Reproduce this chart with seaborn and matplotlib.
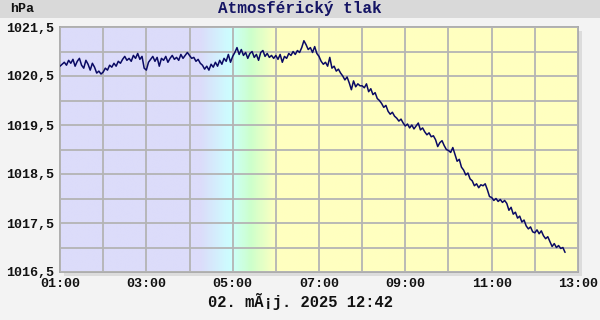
import numpy as np
import pandas as pd
import matplotlib
matplotlib.use("Agg")
import matplotlib.pyplot as plt
from matplotlib.colors import LinearSegmentedColormap
from matplotlib.patches import Rectangle
import seaborn as sns

# pressure readings every 3 minutes, 01:00 .. 12:42 (hPa)
pressure = [
    # 01:00
    1020.70, 1020.74, 1020.78, 1020.72, 1020.82, 1020.76, 1020.84, 1020.70, 1020.80, 1020.86,
    1020.72, 1020.66, 1020.82, 1020.74, 1020.62, 1020.76, 1020.68, 1020.56, 1020.60, 1020.54,
    # 02:00
    1020.58, 1020.66, 1020.62, 1020.72, 1020.68, 1020.76, 1020.70, 1020.80, 1020.76, 1020.84,
    1020.90, 1020.82, 1020.86, 1020.80, 1020.92, 1020.86, 1020.96, 1020.84, 1020.90, 1020.66,
    # 03:00
    1020.62, 1020.78, 1020.84, 1020.90, 1020.80, 1020.88, 1020.70, 1020.86, 1020.82, 1020.90,
    1020.78, 1020.86, 1020.92, 1020.84, 1020.88, 1020.82, 1020.94, 1020.86, 1020.92, 1020.98,
    # 04:00
    1020.92, 1020.86, 1020.88, 1020.80, 1020.84, 1020.76, 1020.72, 1020.64, 1020.70, 1020.62,
    1020.74, 1020.68, 1020.78, 1020.70, 1020.82, 1020.74, 1020.86, 1020.80, 1020.94, 1020.78,
    # 05:00
    1020.90, 1020.98, 1021.08, 1020.94, 1021.04, 1020.92, 1020.98, 1020.86, 1020.96, 1021.00,
    1020.88, 1020.94, 1020.82, 1020.98, 1021.02, 1020.90, 1020.96, 1020.88, 1020.92, 1020.86,
    # 06:00
    1020.92, 1020.84, 1020.94, 1020.78, 1020.90, 1020.86, 1020.96, 1020.92, 1021.00, 1020.94,
    1021.02, 1020.98, 1021.08, 1021.22, 1021.14, 1021.04, 1021.08, 1020.98, 1021.10, 1020.96,
    # 07:00
    1020.90, 1020.80, 1020.74, 1020.78, 1020.70, 1020.88, 1020.66, 1020.70, 1020.60, 1020.64,
    1020.56, 1020.50, 1020.42, 1020.48, 1020.36, 1020.22, 1020.40, 1020.28, 1020.34, 1020.30,
    # 08:00
    1020.30, 1020.26, 1020.34, 1020.18, 1020.24, 1020.12, 1020.16, 1020.04, 1020.00, 1019.94,
    1019.86, 1019.90, 1019.78, 1019.72, 1019.76, 1019.68, 1019.64, 1019.58, 1019.62, 1019.54,
    # 09:00
    1019.48, 1019.52, 1019.44, 1019.50, 1019.42, 1019.48, 1019.54, 1019.40, 1019.44, 1019.36,
    1019.30, 1019.34, 1019.26, 1019.28, 1019.20, 1019.06, 1019.14, 1019.18, 1019.08, 1019.00,
    # 10:00
    1018.98, 1018.94, 1019.04, 1018.90, 1018.76, 1018.80, 1018.64, 1018.58, 1018.48, 1018.52,
    1018.40, 1018.36, 1018.26, 1018.30, 1018.22, 1018.28, 1018.26, 1018.30, 1018.18, 1018.04,
    # 11:00
    1018.02, 1017.96, 1018.00, 1017.94, 1017.98, 1017.92, 1017.96, 1017.90, 1017.76, 1017.82,
    1017.68, 1017.72, 1017.60, 1017.64, 1017.52, 1017.56, 1017.44, 1017.38, 1017.42, 1017.32,
    # 12:00
    1017.30, 1017.36, 1017.28, 1017.34, 1017.24, 1017.18, 1017.22, 1017.12, 1017.02, 1017.08,
    1017.00, 1017.04, 1016.98, 1017.00, 1016.90,
]
start = "2025-05-02 01:00"
step = "3min"

y_labeled = [1016.5, 1017.5, 1018.5, 1019.5, 1020.5, 1021.5]
y_labels = ["1016,5", "1017,5", "1018,5", "1019,5", "1020,5", "1021,5"]
y_minor = [1017.0, 1018.0, 1019.0, 1020.0, 1021.0]
x_hours = [1, 3, 5, 7, 9, 11, 13]
x_labels = ["01:00", "03:00", "05:00", "07:00", "09:00", "11:00", "13:00"]
x_minor = [2, 4, 6, 8, 10, 12]

title = "Atmosférický tlak"
unit = "hPa"
footer = "02. mÃ¡j. 2025 12:42"

sns.set_style("white")
plt.rcParams['font.family'] = ['Liberation Mono', 'DejaVu Sans Mono']

times = pd.date_range(start, periods=len(pressure), freq=step)
df = pd.DataFrame({"hod": times.hour + times.minute / 60, "tlak": pressure})

W, H = 600, 320
fig = plt.figure(figsize=(6, 3.2), dpi=100, facecolor="#f3f3f3")
# title band
fig.patches.append(Rectangle((0, 1 - 18 / H), 1, 18 / H, transform=fig.transFigure,
                             facecolor="#d9d9d9", edgecolor="none", zorder=-2))
# plot shadow
fig.patches.append(Rectangle((64 / W, 44 / H), 518 / W, 245 / H, transform=fig.transFigure,
                             facecolor="#dcdcdc", edgecolor="none", zorder=-2))

ax = fig.add_axes([60 / W, 48 / H, 518 / W, 245 / H])

# day/night background
stops = [(0.0, "#dcdcfa"), ((4.25 - 1) / 12, "#dcdcfa"), ((4.95 - 1) / 12, "#ccffff"),
         ((5.4 - 1) / 12, "#ccffcc"), ((6.0 - 1) / 12, "#ffffc0"), (1.0, "#ffffc0")]
cmap = LinearSegmentedColormap.from_list("den", stops)
ax.imshow(np.linspace(0, 1, 800)[np.newaxis, :], extent=[1, 13, 1016.5, 1021.5],
          aspect="auto", cmap=cmap, zorder=0, interpolation="bilinear")

sns.lineplot(data=df, x="hod", y="tlak", ax=ax, color="#0a0a64", linewidth=1.1, zorder=3)

ax.set_xlim(1, 13)
ax.set_ylim(1016.5, 1021.5)
ax.set_xticks(x_hours)
ax.set_xticklabels(x_labels)
ax.set_xticks(x_minor, minor=True)
ax.set_yticks(y_labeled)
ax.set_yticklabels(y_labels)
ax.set_yticks(y_minor, minor=True)
ax.grid(True, which="both", color="#b4b4b4", linewidth=1.3, zorder=1)
ax.set_axisbelow(False)
for ln in ax.get_xgridlines() + ax.get_ygridlines():
    ln.set_zorder(1)
ax.tick_params(which="both", length=0, labelsize=9.6, pad=4)
for lab in ax.get_xticklabels() + ax.get_yticklabels():
    lab.set_fontweight("bold")
    lab.set_color("#111111")
ax.set_xlabel("")
ax.set_ylabel("")
for sp in ax.spines.values():
    sp.set_color("#a8a8a8")
    sp.set_linewidth(1.3)

fig.text(0.5, 1 - 9 / H, title, ha="center", va="center", fontsize=11.5,
         fontweight="bold", color="#141464")
fig.text(10 / W, 1 - 9 / H, unit, ha="left", va="center", fontsize=9.6,
         fontweight="bold", color="#111111")
fig.text(0.5, 1 - 301 / H, footer, ha="center", va="center", fontsize=11.2,
         fontweight="bold", color="#111111")

fig.savefig("out.png", dpi=100, facecolor=fig.get_facecolor())
